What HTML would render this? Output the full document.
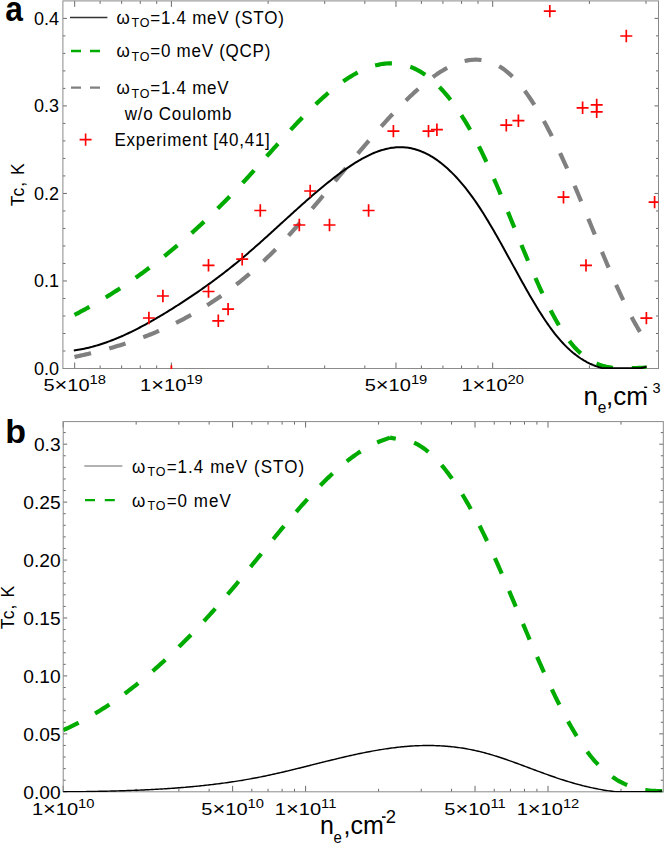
<!DOCTYPE html>
<html><head><meta charset="utf-8"><style>
html,body{margin:0;padding:0;background:#fff;width:664px;height:843px;overflow:hidden}
svg{display:block;font-family:"Liberation Sans", sans-serif}
</style></head><body>
<svg width="664" height="843" viewBox="0 0 664 843" font-family='"Liberation Sans", sans-serif'><line x1="74.68" y1="368.50" x2="74.68" y2="362.50" stroke="#6a6a6a" stroke-width="1"/>
<line x1="74.68" y1="0.90" x2="74.68" y2="6.90" stroke="#6a6a6a" stroke-width="1"/>
<line x1="171.40" y1="368.50" x2="171.40" y2="362.50" stroke="#6a6a6a" stroke-width="1"/>
<line x1="171.40" y1="0.90" x2="171.40" y2="6.90" stroke="#6a6a6a" stroke-width="1"/>
<line x1="395.98" y1="368.50" x2="395.98" y2="362.50" stroke="#6a6a6a" stroke-width="1"/>
<line x1="395.98" y1="0.90" x2="395.98" y2="6.90" stroke="#6a6a6a" stroke-width="1"/>
<line x1="492.70" y1="368.50" x2="492.70" y2="362.50" stroke="#6a6a6a" stroke-width="1"/>
<line x1="492.70" y1="0.90" x2="492.70" y2="6.90" stroke="#6a6a6a" stroke-width="1"/>
<line x1="100.12" y1="368.50" x2="100.12" y2="365.50" stroke="#6a6a6a" stroke-width="1"/>
<line x1="100.12" y1="0.90" x2="100.12" y2="3.90" stroke="#6a6a6a" stroke-width="1"/>
<line x1="121.63" y1="368.50" x2="121.63" y2="365.50" stroke="#6a6a6a" stroke-width="1"/>
<line x1="121.63" y1="0.90" x2="121.63" y2="3.90" stroke="#6a6a6a" stroke-width="1"/>
<line x1="140.26" y1="368.50" x2="140.26" y2="365.50" stroke="#6a6a6a" stroke-width="1"/>
<line x1="140.26" y1="0.90" x2="140.26" y2="3.90" stroke="#6a6a6a" stroke-width="1"/>
<line x1="156.70" y1="368.50" x2="156.70" y2="365.50" stroke="#6a6a6a" stroke-width="1"/>
<line x1="156.70" y1="0.90" x2="156.70" y2="3.90" stroke="#6a6a6a" stroke-width="1"/>
<line x1="268.12" y1="368.50" x2="268.12" y2="365.50" stroke="#6a6a6a" stroke-width="1"/>
<line x1="268.12" y1="0.90" x2="268.12" y2="3.90" stroke="#6a6a6a" stroke-width="1"/>
<line x1="324.70" y1="368.50" x2="324.70" y2="365.50" stroke="#6a6a6a" stroke-width="1"/>
<line x1="324.70" y1="0.90" x2="324.70" y2="3.90" stroke="#6a6a6a" stroke-width="1"/>
<line x1="364.84" y1="368.50" x2="364.84" y2="365.50" stroke="#6a6a6a" stroke-width="1"/>
<line x1="364.84" y1="0.90" x2="364.84" y2="3.90" stroke="#6a6a6a" stroke-width="1"/>
<line x1="421.42" y1="368.50" x2="421.42" y2="365.50" stroke="#6a6a6a" stroke-width="1"/>
<line x1="421.42" y1="0.90" x2="421.42" y2="3.90" stroke="#6a6a6a" stroke-width="1"/>
<line x1="442.93" y1="368.50" x2="442.93" y2="365.50" stroke="#6a6a6a" stroke-width="1"/>
<line x1="442.93" y1="0.90" x2="442.93" y2="3.90" stroke="#6a6a6a" stroke-width="1"/>
<line x1="461.56" y1="368.50" x2="461.56" y2="365.50" stroke="#6a6a6a" stroke-width="1"/>
<line x1="461.56" y1="0.90" x2="461.56" y2="3.90" stroke="#6a6a6a" stroke-width="1"/>
<line x1="478.00" y1="368.50" x2="478.00" y2="365.50" stroke="#6a6a6a" stroke-width="1"/>
<line x1="478.00" y1="0.90" x2="478.00" y2="3.90" stroke="#6a6a6a" stroke-width="1"/>
<line x1="589.42" y1="368.50" x2="589.42" y2="365.50" stroke="#6a6a6a" stroke-width="1"/>
<line x1="589.42" y1="0.90" x2="589.42" y2="3.90" stroke="#6a6a6a" stroke-width="1"/>
<line x1="646.00" y1="368.50" x2="646.00" y2="365.50" stroke="#6a6a6a" stroke-width="1"/>
<line x1="646.00" y1="0.90" x2="646.00" y2="3.90" stroke="#6a6a6a" stroke-width="1"/>
<line x1="62.90" y1="368.50" x2="66.90" y2="368.50" stroke="#6a6a6a" stroke-width="1"/>
<line x1="658.50" y1="368.50" x2="654.50" y2="368.50" stroke="#6a6a6a" stroke-width="1"/>
<line x1="62.90" y1="280.97" x2="66.90" y2="280.97" stroke="#6a6a6a" stroke-width="1"/>
<line x1="658.50" y1="280.97" x2="654.50" y2="280.97" stroke="#6a6a6a" stroke-width="1"/>
<line x1="62.90" y1="193.44" x2="66.90" y2="193.44" stroke="#6a6a6a" stroke-width="1"/>
<line x1="658.50" y1="193.44" x2="654.50" y2="193.44" stroke="#6a6a6a" stroke-width="1"/>
<line x1="62.90" y1="105.91" x2="66.90" y2="105.91" stroke="#6a6a6a" stroke-width="1"/>
<line x1="658.50" y1="105.91" x2="654.50" y2="105.91" stroke="#6a6a6a" stroke-width="1"/>
<line x1="62.90" y1="18.38" x2="66.90" y2="18.38" stroke="#6a6a6a" stroke-width="1"/>
<line x1="658.50" y1="18.38" x2="654.50" y2="18.38" stroke="#6a6a6a" stroke-width="1"/>
<line x1="62.90" y1="350.99" x2="65.40" y2="350.99" stroke="#6a6a6a" stroke-width="1"/>
<line x1="658.50" y1="350.99" x2="656.00" y2="350.99" stroke="#6a6a6a" stroke-width="1"/>
<line x1="62.90" y1="333.49" x2="65.40" y2="333.49" stroke="#6a6a6a" stroke-width="1"/>
<line x1="658.50" y1="333.49" x2="656.00" y2="333.49" stroke="#6a6a6a" stroke-width="1"/>
<line x1="62.90" y1="315.98" x2="65.40" y2="315.98" stroke="#6a6a6a" stroke-width="1"/>
<line x1="658.50" y1="315.98" x2="656.00" y2="315.98" stroke="#6a6a6a" stroke-width="1"/>
<line x1="62.90" y1="298.48" x2="65.40" y2="298.48" stroke="#6a6a6a" stroke-width="1"/>
<line x1="658.50" y1="298.48" x2="656.00" y2="298.48" stroke="#6a6a6a" stroke-width="1"/>
<line x1="62.90" y1="263.46" x2="65.40" y2="263.46" stroke="#6a6a6a" stroke-width="1"/>
<line x1="658.50" y1="263.46" x2="656.00" y2="263.46" stroke="#6a6a6a" stroke-width="1"/>
<line x1="62.90" y1="245.96" x2="65.40" y2="245.96" stroke="#6a6a6a" stroke-width="1"/>
<line x1="658.50" y1="245.96" x2="656.00" y2="245.96" stroke="#6a6a6a" stroke-width="1"/>
<line x1="62.90" y1="228.45" x2="65.40" y2="228.45" stroke="#6a6a6a" stroke-width="1"/>
<line x1="658.50" y1="228.45" x2="656.00" y2="228.45" stroke="#6a6a6a" stroke-width="1"/>
<line x1="62.90" y1="210.95" x2="65.40" y2="210.95" stroke="#6a6a6a" stroke-width="1"/>
<line x1="658.50" y1="210.95" x2="656.00" y2="210.95" stroke="#6a6a6a" stroke-width="1"/>
<line x1="62.90" y1="175.93" x2="65.40" y2="175.93" stroke="#6a6a6a" stroke-width="1"/>
<line x1="658.50" y1="175.93" x2="656.00" y2="175.93" stroke="#6a6a6a" stroke-width="1"/>
<line x1="62.90" y1="158.43" x2="65.40" y2="158.43" stroke="#6a6a6a" stroke-width="1"/>
<line x1="658.50" y1="158.43" x2="656.00" y2="158.43" stroke="#6a6a6a" stroke-width="1"/>
<line x1="62.90" y1="140.92" x2="65.40" y2="140.92" stroke="#6a6a6a" stroke-width="1"/>
<line x1="658.50" y1="140.92" x2="656.00" y2="140.92" stroke="#6a6a6a" stroke-width="1"/>
<line x1="62.90" y1="123.42" x2="65.40" y2="123.42" stroke="#6a6a6a" stroke-width="1"/>
<line x1="658.50" y1="123.42" x2="656.00" y2="123.42" stroke="#6a6a6a" stroke-width="1"/>
<line x1="62.90" y1="88.40" x2="65.40" y2="88.40" stroke="#6a6a6a" stroke-width="1"/>
<line x1="658.50" y1="88.40" x2="656.00" y2="88.40" stroke="#6a6a6a" stroke-width="1"/>
<line x1="62.90" y1="70.90" x2="65.40" y2="70.90" stroke="#6a6a6a" stroke-width="1"/>
<line x1="658.50" y1="70.90" x2="656.00" y2="70.90" stroke="#6a6a6a" stroke-width="1"/>
<line x1="62.90" y1="53.39" x2="65.40" y2="53.39" stroke="#6a6a6a" stroke-width="1"/>
<line x1="658.50" y1="53.39" x2="656.00" y2="53.39" stroke="#6a6a6a" stroke-width="1"/>
<line x1="62.90" y1="35.89" x2="65.40" y2="35.89" stroke="#6a6a6a" stroke-width="1"/>
<line x1="658.50" y1="35.89" x2="656.00" y2="35.89" stroke="#6a6a6a" stroke-width="1"/>
<rect x="62.90" y="0.90" width="595.60" height="367.60" fill="none" stroke="#8a8a8a" stroke-width="1"/>
<line x1="63.20" y1="791.80" x2="63.20" y2="785.80" stroke="#6a6a6a" stroke-width="1"/>
<line x1="63.20" y1="421.60" x2="63.20" y2="427.60" stroke="#6a6a6a" stroke-width="1"/>
<line x1="232.63" y1="791.80" x2="232.63" y2="785.80" stroke="#6a6a6a" stroke-width="1"/>
<line x1="232.63" y1="421.60" x2="232.63" y2="427.60" stroke="#6a6a6a" stroke-width="1"/>
<line x1="305.60" y1="791.80" x2="305.60" y2="785.80" stroke="#6a6a6a" stroke-width="1"/>
<line x1="305.60" y1="421.60" x2="305.60" y2="427.60" stroke="#6a6a6a" stroke-width="1"/>
<line x1="475.03" y1="791.80" x2="475.03" y2="785.80" stroke="#6a6a6a" stroke-width="1"/>
<line x1="475.03" y1="421.60" x2="475.03" y2="427.60" stroke="#6a6a6a" stroke-width="1"/>
<line x1="548.00" y1="791.80" x2="548.00" y2="785.80" stroke="#6a6a6a" stroke-width="1"/>
<line x1="548.00" y1="421.60" x2="548.00" y2="427.60" stroke="#6a6a6a" stroke-width="1"/>
<line x1="136.17" y1="791.80" x2="136.17" y2="788.80" stroke="#6a6a6a" stroke-width="1"/>
<line x1="136.17" y1="421.60" x2="136.17" y2="424.60" stroke="#6a6a6a" stroke-width="1"/>
<line x1="178.85" y1="791.80" x2="178.85" y2="788.80" stroke="#6a6a6a" stroke-width="1"/>
<line x1="178.85" y1="421.60" x2="178.85" y2="424.60" stroke="#6a6a6a" stroke-width="1"/>
<line x1="209.14" y1="791.80" x2="209.14" y2="788.80" stroke="#6a6a6a" stroke-width="1"/>
<line x1="209.14" y1="421.60" x2="209.14" y2="424.60" stroke="#6a6a6a" stroke-width="1"/>
<line x1="251.82" y1="791.80" x2="251.82" y2="788.80" stroke="#6a6a6a" stroke-width="1"/>
<line x1="251.82" y1="421.60" x2="251.82" y2="424.60" stroke="#6a6a6a" stroke-width="1"/>
<line x1="268.05" y1="791.80" x2="268.05" y2="788.80" stroke="#6a6a6a" stroke-width="1"/>
<line x1="268.05" y1="421.60" x2="268.05" y2="424.60" stroke="#6a6a6a" stroke-width="1"/>
<line x1="282.11" y1="791.80" x2="282.11" y2="788.80" stroke="#6a6a6a" stroke-width="1"/>
<line x1="282.11" y1="421.60" x2="282.11" y2="424.60" stroke="#6a6a6a" stroke-width="1"/>
<line x1="294.51" y1="791.80" x2="294.51" y2="788.80" stroke="#6a6a6a" stroke-width="1"/>
<line x1="294.51" y1="421.60" x2="294.51" y2="424.60" stroke="#6a6a6a" stroke-width="1"/>
<line x1="378.57" y1="791.80" x2="378.57" y2="788.80" stroke="#6a6a6a" stroke-width="1"/>
<line x1="378.57" y1="421.60" x2="378.57" y2="424.60" stroke="#6a6a6a" stroke-width="1"/>
<line x1="421.25" y1="791.80" x2="421.25" y2="788.80" stroke="#6a6a6a" stroke-width="1"/>
<line x1="421.25" y1="421.60" x2="421.25" y2="424.60" stroke="#6a6a6a" stroke-width="1"/>
<line x1="451.54" y1="791.80" x2="451.54" y2="788.80" stroke="#6a6a6a" stroke-width="1"/>
<line x1="451.54" y1="421.60" x2="451.54" y2="424.60" stroke="#6a6a6a" stroke-width="1"/>
<line x1="494.22" y1="791.80" x2="494.22" y2="788.80" stroke="#6a6a6a" stroke-width="1"/>
<line x1="494.22" y1="421.60" x2="494.22" y2="424.60" stroke="#6a6a6a" stroke-width="1"/>
<line x1="510.45" y1="791.80" x2="510.45" y2="788.80" stroke="#6a6a6a" stroke-width="1"/>
<line x1="510.45" y1="421.60" x2="510.45" y2="424.60" stroke="#6a6a6a" stroke-width="1"/>
<line x1="524.51" y1="791.80" x2="524.51" y2="788.80" stroke="#6a6a6a" stroke-width="1"/>
<line x1="524.51" y1="421.60" x2="524.51" y2="424.60" stroke="#6a6a6a" stroke-width="1"/>
<line x1="536.91" y1="791.80" x2="536.91" y2="788.80" stroke="#6a6a6a" stroke-width="1"/>
<line x1="536.91" y1="421.60" x2="536.91" y2="424.60" stroke="#6a6a6a" stroke-width="1"/>
<line x1="620.97" y1="791.80" x2="620.97" y2="788.80" stroke="#6a6a6a" stroke-width="1"/>
<line x1="620.97" y1="421.60" x2="620.97" y2="424.60" stroke="#6a6a6a" stroke-width="1"/>
<line x1="63.20" y1="791.80" x2="67.20" y2="791.80" stroke="#6a6a6a" stroke-width="1"/>
<line x1="663.30" y1="791.80" x2="659.30" y2="791.80" stroke="#6a6a6a" stroke-width="1"/>
<line x1="63.20" y1="733.87" x2="67.20" y2="733.87" stroke="#6a6a6a" stroke-width="1"/>
<line x1="663.30" y1="733.87" x2="659.30" y2="733.87" stroke="#6a6a6a" stroke-width="1"/>
<line x1="63.20" y1="675.93" x2="67.20" y2="675.93" stroke="#6a6a6a" stroke-width="1"/>
<line x1="663.30" y1="675.93" x2="659.30" y2="675.93" stroke="#6a6a6a" stroke-width="1"/>
<line x1="63.20" y1="617.99" x2="67.20" y2="617.99" stroke="#6a6a6a" stroke-width="1"/>
<line x1="663.30" y1="617.99" x2="659.30" y2="617.99" stroke="#6a6a6a" stroke-width="1"/>
<line x1="63.20" y1="560.06" x2="67.20" y2="560.06" stroke="#6a6a6a" stroke-width="1"/>
<line x1="663.30" y1="560.06" x2="659.30" y2="560.06" stroke="#6a6a6a" stroke-width="1"/>
<line x1="63.20" y1="502.12" x2="67.20" y2="502.12" stroke="#6a6a6a" stroke-width="1"/>
<line x1="663.30" y1="502.12" x2="659.30" y2="502.12" stroke="#6a6a6a" stroke-width="1"/>
<line x1="63.20" y1="444.19" x2="67.20" y2="444.19" stroke="#6a6a6a" stroke-width="1"/>
<line x1="663.30" y1="444.19" x2="659.30" y2="444.19" stroke="#6a6a6a" stroke-width="1"/>
<line x1="63.20" y1="780.21" x2="65.70" y2="780.21" stroke="#6a6a6a" stroke-width="1"/>
<line x1="663.30" y1="780.21" x2="660.80" y2="780.21" stroke="#6a6a6a" stroke-width="1"/>
<line x1="63.20" y1="768.63" x2="65.70" y2="768.63" stroke="#6a6a6a" stroke-width="1"/>
<line x1="663.30" y1="768.63" x2="660.80" y2="768.63" stroke="#6a6a6a" stroke-width="1"/>
<line x1="63.20" y1="757.04" x2="65.70" y2="757.04" stroke="#6a6a6a" stroke-width="1"/>
<line x1="663.30" y1="757.04" x2="660.80" y2="757.04" stroke="#6a6a6a" stroke-width="1"/>
<line x1="63.20" y1="745.45" x2="65.70" y2="745.45" stroke="#6a6a6a" stroke-width="1"/>
<line x1="663.30" y1="745.45" x2="660.80" y2="745.45" stroke="#6a6a6a" stroke-width="1"/>
<line x1="63.20" y1="722.28" x2="65.70" y2="722.28" stroke="#6a6a6a" stroke-width="1"/>
<line x1="663.30" y1="722.28" x2="660.80" y2="722.28" stroke="#6a6a6a" stroke-width="1"/>
<line x1="63.20" y1="710.69" x2="65.70" y2="710.69" stroke="#6a6a6a" stroke-width="1"/>
<line x1="663.30" y1="710.69" x2="660.80" y2="710.69" stroke="#6a6a6a" stroke-width="1"/>
<line x1="63.20" y1="699.10" x2="65.70" y2="699.10" stroke="#6a6a6a" stroke-width="1"/>
<line x1="663.30" y1="699.10" x2="660.80" y2="699.10" stroke="#6a6a6a" stroke-width="1"/>
<line x1="63.20" y1="687.52" x2="65.70" y2="687.52" stroke="#6a6a6a" stroke-width="1"/>
<line x1="663.30" y1="687.52" x2="660.80" y2="687.52" stroke="#6a6a6a" stroke-width="1"/>
<line x1="63.20" y1="664.34" x2="65.70" y2="664.34" stroke="#6a6a6a" stroke-width="1"/>
<line x1="663.30" y1="664.34" x2="660.80" y2="664.34" stroke="#6a6a6a" stroke-width="1"/>
<line x1="63.20" y1="652.76" x2="65.70" y2="652.76" stroke="#6a6a6a" stroke-width="1"/>
<line x1="663.30" y1="652.76" x2="660.80" y2="652.76" stroke="#6a6a6a" stroke-width="1"/>
<line x1="63.20" y1="641.17" x2="65.70" y2="641.17" stroke="#6a6a6a" stroke-width="1"/>
<line x1="663.30" y1="641.17" x2="660.80" y2="641.17" stroke="#6a6a6a" stroke-width="1"/>
<line x1="63.20" y1="629.58" x2="65.70" y2="629.58" stroke="#6a6a6a" stroke-width="1"/>
<line x1="663.30" y1="629.58" x2="660.80" y2="629.58" stroke="#6a6a6a" stroke-width="1"/>
<line x1="63.20" y1="606.41" x2="65.70" y2="606.41" stroke="#6a6a6a" stroke-width="1"/>
<line x1="663.30" y1="606.41" x2="660.80" y2="606.41" stroke="#6a6a6a" stroke-width="1"/>
<line x1="63.20" y1="594.82" x2="65.70" y2="594.82" stroke="#6a6a6a" stroke-width="1"/>
<line x1="663.30" y1="594.82" x2="660.80" y2="594.82" stroke="#6a6a6a" stroke-width="1"/>
<line x1="63.20" y1="583.23" x2="65.70" y2="583.23" stroke="#6a6a6a" stroke-width="1"/>
<line x1="663.30" y1="583.23" x2="660.80" y2="583.23" stroke="#6a6a6a" stroke-width="1"/>
<line x1="63.20" y1="571.65" x2="65.70" y2="571.65" stroke="#6a6a6a" stroke-width="1"/>
<line x1="663.30" y1="571.65" x2="660.80" y2="571.65" stroke="#6a6a6a" stroke-width="1"/>
<line x1="63.20" y1="548.47" x2="65.70" y2="548.47" stroke="#6a6a6a" stroke-width="1"/>
<line x1="663.30" y1="548.47" x2="660.80" y2="548.47" stroke="#6a6a6a" stroke-width="1"/>
<line x1="63.20" y1="536.89" x2="65.70" y2="536.89" stroke="#6a6a6a" stroke-width="1"/>
<line x1="663.30" y1="536.89" x2="660.80" y2="536.89" stroke="#6a6a6a" stroke-width="1"/>
<line x1="63.20" y1="525.30" x2="65.70" y2="525.30" stroke="#6a6a6a" stroke-width="1"/>
<line x1="663.30" y1="525.30" x2="660.80" y2="525.30" stroke="#6a6a6a" stroke-width="1"/>
<line x1="63.20" y1="513.71" x2="65.70" y2="513.71" stroke="#6a6a6a" stroke-width="1"/>
<line x1="663.30" y1="513.71" x2="660.80" y2="513.71" stroke="#6a6a6a" stroke-width="1"/>
<line x1="63.20" y1="490.54" x2="65.70" y2="490.54" stroke="#6a6a6a" stroke-width="1"/>
<line x1="663.30" y1="490.54" x2="660.80" y2="490.54" stroke="#6a6a6a" stroke-width="1"/>
<line x1="63.20" y1="478.95" x2="65.70" y2="478.95" stroke="#6a6a6a" stroke-width="1"/>
<line x1="663.30" y1="478.95" x2="660.80" y2="478.95" stroke="#6a6a6a" stroke-width="1"/>
<line x1="63.20" y1="467.36" x2="65.70" y2="467.36" stroke="#6a6a6a" stroke-width="1"/>
<line x1="663.30" y1="467.36" x2="660.80" y2="467.36" stroke="#6a6a6a" stroke-width="1"/>
<line x1="63.20" y1="455.78" x2="65.70" y2="455.78" stroke="#6a6a6a" stroke-width="1"/>
<line x1="663.30" y1="455.78" x2="660.80" y2="455.78" stroke="#6a6a6a" stroke-width="1"/>
<line x1="63.20" y1="432.60" x2="65.70" y2="432.60" stroke="#6a6a6a" stroke-width="1"/>
<line x1="663.30" y1="432.60" x2="660.80" y2="432.60" stroke="#6a6a6a" stroke-width="1"/>
<rect x="63.20" y="421.60" width="600.10" height="370.20" fill="none" stroke="#8a8a8a" stroke-width="1"/>
<defs><clipPath id="ca"><rect x="62.90" y="0.90" width="595.60" height="368.10"/></clipPath>
<clipPath id="cb"><rect x="63.20" y="421.60" width="600.10" height="370.70"/></clipPath></defs>
<g clip-path="url(#ca)" fill="none">
<path d="M74.50,314.85 L76.00,314.08 L77.50,313.30 L79.00,312.52 L80.50,311.72 L82.00,310.93 L83.50,310.12 L85.00,309.31 L86.50,308.49 L88.00,307.66 L89.50,306.83 L91.00,305.99 L92.50,305.14 L94.00,304.29 L95.50,303.43 L97.00,302.56 L98.50,301.69 L100.00,300.80 L101.50,299.92 L103.00,299.02 L104.50,298.12 L106.00,297.21 L107.50,296.29 L109.00,295.36 L110.50,294.43 L112.00,293.49 L113.50,292.55 L115.00,291.59 L116.50,290.63 L118.00,289.67 L119.50,288.69 L121.00,287.71 L122.50,286.72 L124.00,285.72 L125.50,284.72 L127.00,283.71 L128.50,282.69 L130.00,281.66 L131.50,280.63 L133.00,279.59 L134.50,278.54 L136.00,277.49 L137.50,276.43 L139.00,275.36 L140.50,274.28 L142.00,273.20 L143.50,272.10 L145.00,271.00 L146.50,269.90 L148.00,268.78 L149.50,267.66 L151.00,266.53 L152.50,265.40 L154.00,264.25 L155.50,263.10 L157.00,261.94 L158.50,260.78 L160.00,259.60 L161.50,258.42 L163.00,257.23 L164.50,256.03 L166.00,254.83 L167.50,253.62 L169.00,252.40 L170.50,251.17 L172.00,249.94 L173.50,248.69 L175.00,247.44 L176.50,246.19 L178.00,244.92 L179.50,243.65 L181.00,242.37 L182.50,241.08 L184.00,239.78 L185.50,238.48 L187.00,237.17 L188.50,235.85 L190.00,234.52 L191.50,233.19 L193.00,231.84 L194.50,230.49 L196.00,229.13 L197.50,227.77 L199.00,226.39 L200.50,225.01 L202.00,223.62 L203.50,222.22 L205.00,220.82 L206.50,219.40 L208.00,217.98 L209.50,216.55 L211.00,215.12 L212.50,213.67 L214.00,212.22 L215.50,210.76 L217.00,209.29 L218.50,207.81 L220.00,206.32 L221.50,204.83 L223.00,203.33 L224.50,201.82 L226.00,200.30 L227.50,198.78 L229.00,197.24 L230.50,195.70 L232.00,194.15 L233.50,192.59 L235.00,191.03 L236.50,189.45 L238.00,187.87 L239.50,186.28 L241.00,184.68 L242.50,183.07 L244.00,181.46 L245.50,179.84 L247.00,178.21 L248.50,176.57 L250.00,174.93 L251.50,173.28 L253.00,171.62 L254.50,169.97 L256.00,168.30 L257.50,166.64 L259.00,164.97 L260.50,163.29 L262.00,161.62 L263.50,159.94 L265.00,158.27 L266.50,156.59 L268.00,154.91 L269.50,153.23 L271.00,151.55 L272.50,149.88 L274.00,148.20 L275.50,146.53 L277.00,144.86 L278.50,143.20 L280.00,141.53 L281.50,139.87 L283.00,138.22 L284.50,136.57 L286.00,134.93 L287.50,133.29 L289.00,131.66 L290.50,130.04 L292.00,128.42 L293.50,126.81 L295.00,125.22 L296.50,123.63 L298.00,122.05 L299.50,120.48 L301.00,118.92 L302.50,117.37 L304.00,115.83 L305.50,114.31 L307.00,112.79 L308.50,111.29 L310.00,109.81 L311.50,108.34 L313.00,106.88 L314.50,105.44 L316.00,104.01 L317.50,102.60 L319.00,101.20 L320.50,99.83 L322.00,98.47 L323.50,97.12 L325.00,95.80 L326.50,94.50 L328.00,93.21 L329.50,91.95 L331.00,90.70 L332.50,89.48 L334.00,88.28 L335.50,87.09 L337.00,85.94 L338.50,84.80 L340.00,83.69 L341.50,82.60 L343.00,81.54 L344.50,80.50 L346.00,79.49 L347.50,78.50 L349.00,77.54 L350.50,76.60 L352.00,75.69 L353.50,74.81 L355.00,73.96 L356.50,73.14 L358.00,72.35 L359.50,71.59 L361.00,70.85 L362.50,70.15 L364.00,69.48 L365.50,68.84 L367.00,68.23 L368.50,67.66 L370.00,67.12 L371.50,66.61 L373.00,66.14 L374.50,65.70 L376.00,65.30 L377.50,64.93 L379.00,64.60 L380.50,64.30 L382.00,64.04 L383.50,63.82 L385.00,63.64 L386.50,63.50 L388.00,63.40 L389.50,63.33 L391.00,63.31 L392.50,63.32 L394.00,63.38 L395.50,63.48 L397.00,63.62 L398.50,63.81 L400.00,64.03 L401.50,64.30 L403.00,64.62 L404.50,64.98 L406.00,65.38 L407.50,65.83 L409.00,66.33 L410.50,66.87 L412.00,67.46 L413.50,68.09 L415.00,68.78 L416.50,69.51 L418.00,70.29 L419.50,71.12 L421.00,72.01 L422.50,72.94 L424.00,73.92 L425.50,74.95 L427.00,76.03 L428.50,77.17 L430.00,78.35 L431.50,79.59 L433.00,80.88 L434.50,82.22 L436.00,83.61 L437.50,85.05 L439.00,86.55 L440.50,88.10 L442.00,89.70 L443.50,91.35 L445.00,93.06 L446.50,94.82 L448.00,96.63 L449.50,98.50 L451.00,100.42 L452.50,102.40 L454.00,104.43 L455.50,106.51 L457.00,108.65 L458.50,110.85 L460.00,113.10 L461.50,115.41 L463.00,117.77 L464.50,120.18 L466.00,122.66 L467.50,125.19 L469.00,127.77 L470.50,130.42 L472.00,133.11 L473.50,135.87 L475.00,138.69 L476.50,141.56 L478.00,144.49 L479.50,147.47 L481.00,150.52 L482.50,153.61 L484.00,156.76 L485.50,159.96 L487.00,163.21 L488.50,166.50 L490.00,169.83 L491.50,173.20 L493.00,176.61 L494.50,180.05 L496.00,183.52 L497.50,187.02 L499.00,190.55 L500.50,194.11 L502.00,197.69 L503.50,201.28 L505.00,204.90 L506.50,208.52 L508.00,212.17 L509.50,215.82 L511.00,219.47 L512.50,223.14 L514.00,226.80 L515.50,230.47 L517.00,234.13 L518.50,237.79 L520.00,241.44 L521.50,245.08 L523.00,248.71 L524.50,252.32 L526.00,255.92 L527.50,259.49 L529.00,263.05 L530.50,266.58 L532.00,270.08 L533.50,273.55 L535.00,276.99 L536.50,280.40 L538.00,283.77 L539.50,287.09 L541.00,290.37 L542.50,293.61 L544.00,296.80 L545.50,299.94 L547.00,303.02 L548.50,306.05 L550.00,309.01 L551.50,311.92 L553.00,314.76 L554.50,317.54 L556.00,320.25 L557.50,322.88 L559.00,325.44 L560.50,327.93 L562.00,330.34 L563.50,332.67 L565.00,334.92 L566.50,337.09 L568.00,339.16 L569.50,341.15 L571.00,343.05 L572.50,344.86 L574.00,346.59 L575.50,348.23 L577.00,349.79 L578.50,351.26 L580.00,352.66 L581.50,353.99 L583.00,355.23 L584.50,356.41 L586.00,357.52 L587.50,358.56 L589.00,359.53 L590.50,360.44 L592.00,361.29 L593.50,362.07 L595.00,362.80 L596.50,363.48 L598.00,364.10 L599.50,364.66 L601.00,365.18 L602.50,365.65 L604.00,366.08 L605.50,366.46 L607.00,366.80 L608.50,367.10 L610.00,367.36 L611.50,367.59 L613.00,367.78 L614.50,367.94 L616.00,368.00 L617.50,368.00 L619.00,368.00 L620.50,368.00 L622.00,368.00 L623.50,368.00 L625.00,368.00 L626.50,368.00 L628.00,368.00 L629.50,368.00 L631.00,368.00 L632.50,368.00 L634.00,368.00 L635.50,368.00 L637.00,367.98 L638.50,367.92 L640.00,367.86 L641.50,367.80 L643.00,367.75 L644.50,367.71 L646.00,367.69 L646.50,367.68" stroke="#00ab00" stroke-width="4.2" stroke-dasharray="17 18.8"/>
<path d="M74.50,356.96 L76.00,356.64 L77.50,356.32 L79.00,355.99 L80.50,355.66 L82.00,355.32 L83.50,354.98 L85.00,354.64 L86.50,354.29 L88.00,353.94 L89.50,353.58 L91.00,353.22 L92.50,352.85 L94.00,352.48 L95.50,352.11 L97.00,351.73 L98.50,351.34 L100.00,350.95 L101.50,350.56 L103.00,350.16 L104.50,349.75 L106.00,349.34 L107.50,348.93 L109.00,348.51 L110.50,348.08 L112.00,347.65 L113.50,347.21 L115.00,346.77 L116.50,346.32 L118.00,345.86 L119.50,345.40 L121.00,344.93 L122.50,344.46 L124.00,343.98 L125.50,343.49 L127.00,343.00 L128.50,342.50 L130.00,342.00 L131.50,341.49 L133.00,340.97 L134.50,340.44 L136.00,339.91 L137.50,339.37 L139.00,338.82 L140.50,338.27 L142.00,337.71 L143.50,337.14 L145.00,336.57 L146.50,335.98 L148.00,335.39 L149.50,334.80 L151.00,334.19 L152.50,333.58 L154.00,332.96 L155.50,332.33 L157.00,331.69 L158.50,331.05 L160.00,330.39 L161.50,329.73 L163.00,329.06 L164.50,328.39 L166.00,327.70 L167.50,327.00 L169.00,326.30 L170.50,325.59 L172.00,324.87 L173.50,324.14 L175.00,323.40 L176.50,322.65 L178.00,321.90 L179.50,321.13 L181.00,320.35 L182.50,319.57 L184.00,318.78 L185.50,317.97 L187.00,317.16 L188.50,316.34 L190.00,315.51 L191.50,314.66 L193.00,313.81 L194.50,312.95 L196.00,312.08 L197.50,311.20 L199.00,310.30 L200.50,309.40 L202.00,308.49 L203.50,307.57 L205.00,306.63 L206.50,305.69 L208.00,304.73 L209.50,303.77 L211.00,302.79 L212.50,301.80 L214.00,300.80 L215.50,299.79 L217.00,298.77 L218.50,297.74 L220.00,296.70 L221.50,295.64 L223.00,294.58 L224.50,293.50 L226.00,292.41 L227.50,291.31 L229.00,290.20 L230.50,289.07 L232.00,287.93 L233.50,286.78 L235.00,285.62 L236.50,284.45 L238.00,283.27 L239.50,282.07 L241.00,280.86 L242.50,279.64 L244.00,278.40 L245.50,277.15 L247.00,275.89 L248.50,274.62 L250.00,273.33 L251.50,272.03 L253.00,270.72 L254.50,269.39 L256.00,268.06 L257.50,266.70 L259.00,265.34 L260.50,263.96 L262.00,262.57 L263.50,261.16 L265.00,259.74 L266.50,258.31 L268.00,256.86 L269.50,255.40 L271.00,253.92 L272.50,252.43 L274.00,250.93 L275.50,249.41 L277.00,247.88 L278.50,246.33 L280.00,244.78 L281.50,243.20 L283.00,241.62 L284.50,240.02 L286.00,238.41 L287.50,236.78 L289.00,235.15 L290.50,233.50 L292.00,231.85 L293.50,230.18 L295.00,228.51 L296.50,226.82 L298.00,225.12 L299.50,223.42 L301.00,221.70 L302.50,219.98 L304.00,218.25 L305.50,216.51 L307.00,214.76 L308.50,213.01 L310.00,211.25 L311.50,209.49 L313.00,207.71 L314.50,205.94 L316.00,204.15 L317.50,202.36 L319.00,200.57 L320.50,198.78 L322.00,196.97 L323.50,195.17 L325.00,193.36 L326.50,191.55 L328.00,189.74 L329.50,187.92 L331.00,186.10 L332.50,184.28 L334.00,182.46 L335.50,180.64 L337.00,178.82 L338.50,177.00 L340.00,175.18 L341.50,173.36 L343.00,171.54 L344.50,169.72 L346.00,167.90 L347.50,166.08 L349.00,164.27 L350.50,162.46 L352.00,160.65 L353.50,158.85 L355.00,157.04 L356.50,155.25 L358.00,153.45 L359.50,151.67 L361.00,149.88 L362.50,148.10 L364.00,146.33 L365.50,144.57 L367.00,142.81 L368.50,141.05 L370.00,139.31 L371.50,137.57 L373.00,135.84 L374.50,134.11 L376.00,132.40 L377.50,130.70 L379.00,129.00 L380.50,127.31 L382.00,125.63 L383.50,123.97 L385.00,122.31 L386.50,120.67 L388.00,119.03 L389.50,117.41 L391.00,115.80 L392.50,114.20 L394.00,112.61 L395.50,111.04 L397.00,109.48 L398.50,107.93 L400.00,106.40 L401.50,104.88 L403.00,103.38 L404.50,101.89 L406.00,100.42 L407.50,98.96 L409.00,97.52 L410.50,96.09 L412.00,94.68 L413.50,93.29 L415.00,91.92 L416.50,90.56 L418.00,89.23 L419.50,87.91 L421.00,86.61 L422.50,85.33 L424.00,84.07 L425.50,82.83 L427.00,81.62 L428.50,80.43 L430.00,79.26 L431.50,78.12 L433.00,77.01 L434.50,75.92 L436.00,74.86 L437.50,73.83 L439.00,72.82 L440.50,71.85 L442.00,70.91 L443.50,70.00 L445.00,69.12 L446.50,68.28 L448.00,67.47 L449.50,66.70 L451.00,65.96 L452.50,65.26 L454.00,64.59 L455.50,63.97 L457.00,63.38 L458.50,62.83 L460.00,62.33 L461.50,61.86 L463.00,61.44 L464.50,61.06 L466.00,60.72 L467.50,60.43 L469.00,60.19 L470.50,59.99 L472.00,59.84 L473.50,59.74 L475.00,59.68 L476.50,59.68 L478.00,59.73 L479.50,59.82 L481.00,59.97 L482.50,60.18 L484.00,60.43 L485.50,60.75 L487.00,61.11 L488.50,61.54 L490.00,62.02 L491.50,62.56 L493.00,63.15 L494.50,63.81 L496.00,64.53 L497.50,65.31 L499.00,66.15 L500.50,67.05 L502.00,68.02 L503.50,69.05 L505.00,70.14 L506.50,71.31 L508.00,72.54 L509.50,73.83 L511.00,75.20 L512.50,76.64 L514.00,78.14 L515.50,79.71 L517.00,81.35 L518.50,83.06 L520.00,84.83 L521.50,86.67 L523.00,88.57 L524.50,90.53 L526.00,92.56 L527.50,94.64 L529.00,96.79 L530.50,98.99 L532.00,101.25 L533.50,103.57 L535.00,105.95 L536.50,108.38 L538.00,110.86 L539.50,113.40 L541.00,115.99 L542.50,118.63 L544.00,121.33 L545.50,124.07 L547.00,126.86 L548.50,129.70 L550.00,132.59 L551.50,135.52 L553.00,138.50 L554.50,141.52 L556.00,144.58 L557.50,147.69 L559.00,150.84 L560.50,154.02 L562.00,157.25 L563.50,160.52 L565.00,163.82 L566.50,167.16 L568.00,170.54 L569.50,173.95 L571.00,177.39 L572.50,180.87 L574.00,184.37 L575.50,187.89 L577.00,191.44 L578.50,195.01 L580.00,198.60 L581.50,202.20 L583.00,205.82 L584.50,209.45 L586.00,213.09 L587.50,216.74 L589.00,220.39 L590.50,224.04 L592.00,227.70 L593.50,231.36 L595.00,235.01 L596.50,238.65 L598.00,242.29 L599.50,245.92 L601.00,249.54 L602.50,253.14 L604.00,256.72 L605.50,260.28 L607.00,263.83 L608.50,267.35 L610.00,270.84 L611.50,274.31 L613.00,277.74 L614.50,281.15 L616.00,284.51 L617.50,287.85 L619.00,291.14 L620.50,294.39 L622.00,297.60 L623.50,300.76 L625.00,303.87 L626.50,306.94 L628.00,309.95 L629.50,312.91 L631.00,315.81 L632.50,318.65 L634.00,321.43 L635.50,324.14 L637.00,326.79 L638.50,329.37 L640.00,331.89 L641.50,334.33 L643.00,336.69 L644.50,338.98 L646.00,341.19 L646.50,341.91" stroke="#808080" stroke-width="4.2" stroke-dasharray="17 18.8"/>
<path d="M73.80,350.47 L75.30,350.26 L76.80,350.04 L78.30,349.80 L79.80,349.55 L81.30,349.27 L82.80,348.98 L84.30,348.68 L85.80,348.35 L87.30,348.01 L88.80,347.66 L90.30,347.29 L91.80,346.90 L93.30,346.50 L94.80,346.08 L96.30,345.65 L97.80,345.20 L99.30,344.74 L100.80,344.27 L102.30,343.78 L103.80,343.27 L105.30,342.76 L106.80,342.22 L108.30,341.68 L109.80,341.12 L111.30,340.55 L112.80,339.97 L114.30,339.37 L115.80,338.76 L117.30,338.14 L118.80,337.51 L120.30,336.86 L121.80,336.21 L123.30,335.54 L124.80,334.86 L126.30,334.17 L127.80,333.47 L129.30,332.75 L130.80,332.03 L132.30,331.30 L133.80,330.56 L135.30,329.80 L136.80,329.04 L138.30,328.27 L139.80,327.49 L141.30,326.70 L142.80,325.90 L144.30,325.09 L145.80,324.27 L147.30,323.45 L148.80,322.62 L150.30,321.78 L151.80,320.93 L153.30,320.07 L154.80,319.21 L156.30,318.34 L157.80,317.46 L159.30,316.58 L160.80,315.69 L162.30,314.79 L163.80,313.89 L165.30,312.98 L166.80,312.06 L168.30,311.14 L169.80,310.22 L171.30,309.29 L172.80,308.35 L174.30,307.41 L175.80,306.46 L177.30,305.51 L178.80,304.56 L180.30,303.59 L181.80,302.62 L183.30,301.65 L184.80,300.67 L186.30,299.69 L187.80,298.69 L189.30,297.70 L190.80,296.69 L192.30,295.68 L193.80,294.67 L195.30,293.65 L196.80,292.62 L198.30,291.58 L199.80,290.54 L201.30,289.49 L202.80,288.44 L204.30,287.38 L205.80,286.31 L207.30,285.24 L208.80,284.15 L210.30,283.07 L211.80,281.97 L213.30,280.87 L214.80,279.76 L216.30,278.64 L217.80,277.52 L219.30,276.38 L220.80,275.25 L222.30,274.10 L223.80,272.94 L225.30,271.78 L226.80,270.61 L228.30,269.44 L229.80,268.25 L231.30,267.06 L232.80,265.86 L234.30,264.65 L235.80,263.43 L237.30,262.20 L238.80,260.97 L240.30,259.72 L241.80,258.47 L243.30,257.21 L244.80,255.95 L246.30,254.67 L247.80,253.39 L249.30,252.09 L250.80,250.80 L252.30,249.49 L253.80,248.18 L255.30,246.86 L256.80,245.54 L258.30,244.21 L259.80,242.88 L261.30,241.54 L262.80,240.19 L264.30,238.85 L265.80,237.50 L267.30,236.14 L268.80,234.78 L270.30,233.42 L271.80,232.06 L273.30,230.70 L274.80,229.33 L276.30,227.96 L277.80,226.60 L279.30,225.23 L280.80,223.86 L282.30,222.49 L283.80,221.12 L285.30,219.75 L286.80,218.38 L288.30,217.02 L289.80,215.65 L291.30,214.29 L292.80,212.93 L294.30,211.57 L295.80,210.22 L297.30,208.87 L298.80,207.52 L300.30,206.17 L301.80,204.84 L303.30,203.50 L304.80,202.17 L306.30,200.85 L307.80,199.53 L309.30,198.22 L310.80,196.91 L312.30,195.61 L313.80,194.32 L315.30,193.03 L316.80,191.75 L318.30,190.49 L319.80,189.22 L321.30,187.97 L322.80,186.73 L324.30,185.49 L325.80,184.27 L327.30,183.06 L328.80,181.85 L330.30,180.66 L331.80,179.48 L333.30,178.31 L334.80,177.15 L336.30,176.00 L337.80,174.87 L339.30,173.75 L340.80,172.64 L342.30,171.54 L343.80,170.46 L345.30,169.40 L346.80,168.35 L348.30,167.32 L349.80,166.31 L351.30,165.31 L352.80,164.34 L354.30,163.38 L355.80,162.45 L357.30,161.53 L358.80,160.64 L360.30,159.77 L361.80,158.92 L363.30,158.09 L364.80,157.29 L366.30,156.52 L367.80,155.77 L369.30,155.05 L370.80,154.35 L372.30,153.68 L373.80,153.04 L375.30,152.43 L376.80,151.85 L378.30,151.30 L379.80,150.79 L381.30,150.30 L382.80,149.85 L384.30,149.42 L385.80,149.04 L387.30,148.69 L388.80,148.37 L390.30,148.09 L391.80,147.85 L393.30,147.64 L394.80,147.47 L396.30,147.34 L397.80,147.25 L399.30,147.20 L400.80,147.19 L402.30,147.23 L403.80,147.30 L405.30,147.42 L406.80,147.58 L408.30,147.78 L409.80,148.03 L411.30,148.32 L412.80,148.66 L414.30,149.04 L415.80,149.46 L417.30,149.92 L418.80,150.43 L420.30,150.99 L421.80,151.58 L423.30,152.22 L424.80,152.90 L426.30,153.63 L427.80,154.40 L429.30,155.21 L430.80,156.07 L432.30,156.97 L433.80,157.91 L435.30,158.90 L436.80,159.93 L438.30,161.00 L439.80,162.12 L441.30,163.28 L442.80,164.48 L444.30,165.73 L445.80,167.02 L447.30,168.35 L448.80,169.73 L450.30,171.15 L451.80,172.61 L453.30,174.12 L454.80,175.67 L456.30,177.26 L457.80,178.90 L459.30,180.58 L460.80,182.30 L462.30,184.07 L463.80,185.88 L465.30,187.73 L466.80,189.63 L468.30,191.57 L469.80,193.55 L471.30,195.58 L472.80,197.65 L474.30,199.76 L475.80,201.91 L477.30,204.11 L478.80,206.35 L480.30,208.64 L481.80,210.96 L483.30,213.33 L484.80,215.73 L486.30,218.17 L487.80,220.64 L489.30,223.15 L490.80,225.68 L492.30,228.24 L493.80,230.82 L495.30,233.43 L496.80,236.07 L498.30,238.72 L499.80,241.38 L501.30,244.07 L502.80,246.77 L504.30,249.47 L505.80,252.19 L507.30,254.92 L508.80,257.65 L510.30,260.39 L511.80,263.12 L513.30,265.86 L514.80,268.60 L516.30,271.33 L517.80,274.05 L519.30,276.77 L520.80,279.47 L522.30,282.17 L523.80,284.85 L525.30,287.51 L526.80,290.15 L528.30,292.78 L529.80,295.38 L531.30,297.96 L532.80,300.51 L534.30,303.03 L535.80,305.53 L537.30,307.99 L538.80,310.42 L540.30,312.81 L541.80,315.16 L543.30,317.48 L544.80,319.75 L546.30,321.97 L547.80,324.15 L549.30,326.29 L550.80,328.37 L552.30,330.40 L553.80,332.38 L555.30,334.30 L556.80,336.16 L558.30,337.97 L559.80,339.71 L561.30,341.40 L562.80,343.03 L564.30,344.61 L565.80,346.13 L567.30,347.60 L568.80,349.01 L570.30,350.37 L571.80,351.68 L573.30,352.94 L574.80,354.14 L576.30,355.30 L577.80,356.40 L579.30,357.46 L580.80,358.47 L582.30,359.43 L583.80,360.35 L585.30,361.22 L586.80,362.05 L588.30,362.83 L589.80,363.57 L591.30,364.26 L592.80,364.92 L594.30,365.53 L595.80,366.10 L597.30,366.63 L598.80,367.13 L600.30,367.58 L601.80,368.00 L603.30,368.30 L604.80,368.30 L606.30,368.30 L607.80,368.30 L609.30,368.30 L610.80,368.30 L612.30,368.30 L613.80,368.30 L615.30,368.30 L616.80,368.30 L618.30,368.30 L619.80,368.30 L621.30,368.30 L622.80,368.30 L624.30,368.30 L625.80,368.30 L627.30,368.30 L628.80,368.30 L630.30,368.30 L631.80,368.30 L633.30,368.30 L634.80,368.30 L636.30,368.30 L637.80,368.30 L639.30,368.30 L640.80,368.10 L642.30,367.78 L643.80,367.45 L645.30,367.10 L646.50,366.81" stroke="#000" stroke-width="2"/>
<path d="M142.90,318.00h12M148.90,311.80v12.4" stroke="#ff0000" stroke-width="1.7"/>
<path d="M156.90,296.00h12M162.90,289.80v12.4" stroke="#ff0000" stroke-width="1.7"/>
<path d="M202.50,265.30h12M208.50,259.10v12.4" stroke="#ff0000" stroke-width="1.7"/>
<path d="M202.50,291.50h12M208.50,285.30v12.4" stroke="#ff0000" stroke-width="1.7"/>
<path d="M212.30,320.80h12M218.30,314.60v12.4" stroke="#ff0000" stroke-width="1.7"/>
<path d="M222.10,309.10h12M228.10,302.90v12.4" stroke="#ff0000" stroke-width="1.7"/>
<path d="M236.20,259.20h12M242.20,253.00v12.4" stroke="#ff0000" stroke-width="1.7"/>
<path d="M254.30,210.50h12M260.30,204.30v12.4" stroke="#ff0000" stroke-width="1.7"/>
<path d="M293.30,225.00h12M299.30,218.80v12.4" stroke="#ff0000" stroke-width="1.7"/>
<path d="M304.20,191.00h12M310.20,184.80v12.4" stroke="#ff0000" stroke-width="1.7"/>
<path d="M323.50,225.00h12M329.50,218.80v12.4" stroke="#ff0000" stroke-width="1.7"/>
<path d="M362.60,210.50h12M368.60,204.30v12.4" stroke="#ff0000" stroke-width="1.7"/>
<path d="M387.40,131.10h12M393.40,124.90v12.4" stroke="#ff0000" stroke-width="1.7"/>
<path d="M422.50,131.10h12M428.50,124.90v12.4" stroke="#ff0000" stroke-width="1.7"/>
<path d="M430.90,129.70h12M436.90,123.50v12.4" stroke="#ff0000" stroke-width="1.7"/>
<path d="M500.30,125.20h12M506.30,119.00v12.4" stroke="#ff0000" stroke-width="1.7"/>
<path d="M512.40,120.70h12M518.40,114.50v12.4" stroke="#ff0000" stroke-width="1.7"/>
<path d="M543.80,11.10h12M549.80,4.90v12.4" stroke="#ff0000" stroke-width="1.7"/>
<path d="M557.50,197.20h12M563.50,191.00v12.4" stroke="#ff0000" stroke-width="1.7"/>
<path d="M576.60,107.80h12M582.60,101.60v12.4" stroke="#ff0000" stroke-width="1.7"/>
<path d="M580.00,265.40h12M586.00,259.20v12.4" stroke="#ff0000" stroke-width="1.7"/>
<path d="M590.70,104.90h12M596.70,98.70v12.4" stroke="#ff0000" stroke-width="1.7"/>
<path d="M590.70,111.90h12M596.70,105.70v12.4" stroke="#ff0000" stroke-width="1.7"/>
<path d="M620.30,36.00h12M626.30,29.80v12.4" stroke="#ff0000" stroke-width="1.7"/>
<path d="M640.40,318.10h12M646.40,311.90v12.4" stroke="#ff0000" stroke-width="1.7"/>
<path d="M648.60,202.10h12M654.60,195.90v12.4" stroke="#ff0000" stroke-width="1.7"/>
<path d="M165.40,371.50h12M171.40,365.30v12.4" stroke="#ff0000" stroke-width="1.7"/>
</g>
<g clip-path="url(#cb)" fill="none">
<path d="M63.30,730.08 L64.80,729.42 L66.30,728.74 L67.80,728.06 L69.30,727.36 L70.80,726.65 L72.30,725.92 L73.80,725.19 L75.30,724.44 L76.80,723.69 L78.30,722.92 L79.80,722.14 L81.30,721.35 L82.80,720.54 L84.30,719.73 L85.80,718.91 L87.30,718.07 L88.80,717.22 L90.30,716.36 L91.80,715.49 L93.30,714.61 L94.80,713.72 L96.30,712.81 L97.80,711.90 L99.30,710.97 L100.80,710.04 L102.30,709.09 L103.80,708.13 L105.30,707.16 L106.80,706.18 L108.30,705.19 L109.80,704.19 L111.30,703.17 L112.80,702.15 L114.30,701.11 L115.80,700.07 L117.30,699.01 L118.80,697.95 L120.30,696.87 L121.80,695.78 L123.30,694.69 L124.80,693.58 L126.30,692.46 L127.80,691.33 L129.30,690.19 L130.80,689.04 L132.30,687.88 L133.80,686.71 L135.30,685.53 L136.80,684.34 L138.30,683.14 L139.80,681.92 L141.30,680.70 L142.80,679.47 L144.30,678.23 L145.80,676.98 L147.30,675.72 L148.80,674.44 L150.30,673.16 L151.80,671.87 L153.30,670.57 L154.80,669.26 L156.30,667.94 L157.80,666.61 L159.30,665.27 L160.80,663.92 L162.30,662.56 L163.80,661.19 L165.30,659.81 L166.80,658.42 L168.30,657.02 L169.80,655.62 L171.30,654.20 L172.80,652.77 L174.30,651.34 L175.80,649.89 L177.30,648.44 L178.80,646.97 L180.30,645.50 L181.80,644.02 L183.30,642.53 L184.80,641.03 L186.30,639.52 L187.80,638.00 L189.30,636.47 L190.80,634.93 L192.30,633.39 L193.80,631.83 L195.30,630.27 L196.80,628.70 L198.30,627.12 L199.80,625.52 L201.30,623.93 L202.80,622.32 L204.30,620.70 L205.80,619.08 L207.30,617.44 L208.80,615.80 L210.30,614.15 L211.80,612.49 L213.30,610.82 L214.80,609.14 L216.30,607.46 L217.80,605.76 L219.30,604.06 L220.80,602.35 L222.30,600.63 L223.80,598.90 L225.30,597.17 L226.80,595.42 L228.30,593.67 L229.80,591.91 L231.30,590.14 L232.80,588.37 L234.30,586.58 L235.80,584.79 L237.30,583.00 L238.80,581.20 L240.30,579.39 L241.80,577.58 L243.30,575.76 L244.80,573.94 L246.30,572.12 L247.80,570.29 L249.30,568.46 L250.80,566.62 L252.30,564.79 L253.80,562.95 L255.30,561.11 L256.80,559.27 L258.30,557.42 L259.80,555.58 L261.30,553.74 L262.80,551.90 L264.30,550.06 L265.80,548.22 L267.30,546.38 L268.80,544.54 L270.30,542.71 L271.80,540.88 L273.30,539.05 L274.80,537.22 L276.30,535.40 L277.80,533.58 L279.30,531.77 L280.80,529.96 L282.30,528.16 L283.80,526.37 L285.30,524.58 L286.80,522.79 L288.30,521.02 L289.80,519.25 L291.30,517.49 L292.80,515.74 L294.30,513.99 L295.80,512.26 L297.30,510.53 L298.80,508.82 L300.30,507.11 L301.80,505.41 L303.30,503.73 L304.80,502.06 L306.30,500.39 L307.80,498.74 L309.30,497.11 L310.80,495.48 L312.30,493.87 L313.80,492.27 L315.30,490.69 L316.80,489.12 L318.30,487.57 L319.80,486.03 L321.30,484.50 L322.80,483.00 L324.30,481.51 L325.80,480.03 L327.30,478.57 L328.80,477.13 L330.30,475.71 L331.80,474.31 L333.30,472.92 L334.80,471.56 L336.30,470.21 L337.80,468.88 L339.30,467.58 L340.80,466.29 L342.30,465.03 L343.80,463.78 L345.30,462.56 L346.80,461.36 L348.30,460.19 L349.80,459.03 L351.30,457.90 L352.80,456.79 L354.30,455.71 L355.80,454.65 L357.30,453.62 L358.80,452.61 L360.30,451.63 L361.80,450.67 L363.30,449.74 L364.80,448.84 L366.30,447.97 L367.80,447.12 L369.30,446.30 L370.80,445.51 L372.30,444.74 L373.80,444.01 L375.30,443.30 L376.80,442.63 L378.30,441.99 L379.40,441.53 L390,437.6" stroke="#00ab00" stroke-width="4.2" stroke-dasharray="17 18.8"/>
<path d="M390,437.6 L412.00,441.91 L413.50,442.51 L415.00,443.18 L416.50,443.91 L418.00,444.70 L419.50,445.56 L421.00,446.48 L422.50,447.46 L424.00,448.50 L425.50,449.61 L427.00,450.77 L428.50,452.00 L430.00,453.28 L431.50,454.62 L433.00,456.03 L434.50,457.49 L436.00,459.00 L437.50,460.58 L439.00,462.21 L440.50,463.89 L442.00,465.63 L443.50,467.43 L445.00,469.28 L446.50,471.18 L448.00,473.14 L449.50,475.15 L451.00,477.21 L452.50,479.32 L454.00,481.49 L455.50,483.70 L457.00,485.96 L458.50,488.28 L460.00,490.64 L461.50,493.05 L463.00,495.51 L464.50,498.01 L466.00,500.57 L467.50,503.16 L469.00,505.81 L470.50,508.50 L472.00,511.23 L473.50,514.01 L475.00,516.83 L476.50,519.69 L478.00,522.60 L479.50,525.55 L481.00,528.54 L482.50,531.57 L484.00,534.64 L485.50,537.75 L487.00,540.90 L488.50,544.09 L490.00,547.31 L491.50,550.57 L493.00,553.87 L494.50,557.19 L496.00,560.55 L497.50,563.93 L499.00,567.34 L500.50,570.77 L502.00,574.23 L503.50,577.71 L505.00,581.20 L506.50,584.71 L508.00,588.24 L509.50,591.77 L511.00,595.32 L512.50,598.88 L514.00,602.44 L515.50,606.01 L517.00,609.59 L518.50,613.16 L520.00,616.74 L521.50,620.31 L523.00,623.88 L524.50,627.44 L526.00,630.99 L527.50,634.53 L529.00,638.07 L530.50,641.58 L532.00,645.09 L533.50,648.57 L535.00,652.04 L536.50,655.49 L538.00,658.91 L539.50,662.32 L541.00,665.70 L542.50,669.06 L544.00,672.39 L545.50,675.70 L547.00,678.98 L548.50,682.22 L550.00,685.44 L551.50,688.62 L553.00,691.77 L554.50,694.89 L556.00,697.97 L557.50,701.01 L559.00,704.02 L560.50,706.98 L562.00,709.90 L563.50,712.79 L565.00,715.62 L566.50,718.41 L568.00,721.16 L569.50,723.86 L571.00,726.51 L572.50,729.11 L574.00,731.66 L575.50,734.15 L577.00,736.60 L578.50,738.98 L580.00,741.31 L581.50,743.59 L583.00,745.80 L584.50,747.95 L586.00,750.04 L587.50,752.07 L589.00,754.04 L590.50,755.94 L592.00,757.78 L593.50,759.55 L595.00,761.26 L596.50,762.91 L598.00,764.51 L599.50,766.04 L601.00,767.51 L602.50,768.93 L604.00,770.30 L605.50,771.61 L607.00,772.86 L608.50,774.06 L610.00,775.22 L611.50,776.32 L613.00,777.37 L614.50,778.37 L616.00,779.33 L617.50,780.24 L619.00,781.10 L620.50,781.92 L622.00,782.70 L623.50,783.44 L625.00,784.13 L626.50,784.78 L628.00,785.40 L629.50,785.98 L631.00,786.52 L632.50,787.02 L634.00,787.49 L635.50,787.92 L637.00,788.32 L638.50,788.69 L640.00,789.03 L641.50,789.34 L643.00,789.62 L644.50,789.87 L646.00,790.10 L647.50,790.30 L649.00,790.47 L650.50,790.63 L652.00,790.75 L653.50,790.86 L655.00,790.95 L656.50,791.01 L658.00,791.06 L659.50,791.09 L661.00,791.11 L662.50,791.11 L664.00,791.09" stroke="#00ab00" stroke-width="4.2" stroke-dasharray="17 18.8" stroke-dashoffset="11.1"/>
<path d="M63.00,791.80 L64.50,791.80 L66.00,791.80 L67.50,791.80 L69.00,791.80 L70.50,791.80 L72.00,791.80 L73.50,791.80 L75.00,791.78 L76.50,791.76 L78.00,791.73 L79.50,791.71 L81.00,791.68 L82.50,791.66 L84.00,791.63 L85.50,791.60 L87.00,791.58 L88.50,791.55 L90.00,791.52 L91.50,791.49 L93.00,791.46 L94.50,791.43 L96.00,791.40 L97.50,791.37 L99.00,791.34 L100.50,791.31 L102.00,791.27 L103.50,791.24 L105.00,791.20 L106.50,791.17 L108.00,791.13 L109.50,791.10 L111.00,791.06 L112.50,791.02 L114.00,790.98 L115.50,790.94 L117.00,790.89 L118.50,790.85 L120.00,790.81 L121.50,790.76 L123.00,790.71 L124.50,790.66 L126.00,790.61 L127.50,790.56 L129.00,790.51 L130.50,790.46 L132.00,790.40 L133.50,790.35 L135.00,790.29 L136.50,790.23 L138.00,790.17 L139.50,790.11 L141.00,790.04 L142.50,789.98 L144.00,789.91 L145.50,789.84 L147.00,789.77 L148.50,789.70 L150.00,789.62 L151.50,789.55 L153.00,789.47 L154.50,789.39 L156.00,789.31 L157.50,789.22 L159.00,789.14 L160.50,789.05 L162.00,788.96 L163.50,788.87 L165.00,788.77 L166.50,788.68 L168.00,788.58 L169.50,788.48 L171.00,788.38 L172.50,788.27 L174.00,788.16 L175.50,788.05 L177.00,787.94 L178.50,787.83 L180.00,787.71 L181.50,787.59 L183.00,787.47 L184.50,787.35 L186.00,787.22 L187.50,787.09 L189.00,786.96 L190.50,786.82 L192.00,786.68 L193.50,786.54 L195.00,786.40 L196.50,786.25 L198.00,786.11 L199.50,785.95 L201.00,785.80 L202.50,785.64 L204.00,785.48 L205.50,785.32 L207.00,785.15 L208.50,784.98 L210.00,784.81 L211.50,784.63 L213.00,784.45 L214.50,784.27 L216.00,784.09 L217.50,783.90 L219.00,783.70 L220.50,783.51 L222.00,783.31 L223.50,783.11 L225.00,782.90 L226.50,782.69 L228.00,782.48 L229.50,782.27 L231.00,782.05 L232.50,781.82 L234.00,781.60 L235.50,781.37 L237.00,781.13 L238.50,780.89 L240.00,780.65 L241.50,780.41 L243.00,780.16 L244.50,779.90 L246.00,779.65 L247.50,779.39 L249.00,779.12 L250.50,778.85 L252.00,778.58 L253.50,778.30 L255.00,778.02 L256.50,777.74 L258.00,777.45 L259.50,777.15 L261.00,776.86 L262.50,776.55 L264.00,776.25 L265.50,775.94 L267.00,775.62 L268.50,775.30 L270.00,774.98 L271.50,774.66 L273.00,774.33 L274.50,773.99 L276.00,773.66 L277.50,773.32 L279.00,772.97 L280.50,772.63 L282.00,772.28 L283.50,771.93 L285.00,771.58 L286.50,771.22 L288.00,770.86 L289.50,770.50 L291.00,770.14 L292.50,769.77 L294.00,769.41 L295.50,769.04 L297.00,768.67 L298.50,768.30 L300.00,767.93 L301.50,767.55 L303.00,767.18 L304.50,766.81 L306.00,766.43 L307.50,766.05 L309.00,765.68 L310.50,765.30 L312.00,764.92 L313.50,764.55 L315.00,764.17 L316.50,763.79 L318.00,763.41 L319.50,763.04 L321.00,762.66 L322.50,762.29 L324.00,761.91 L325.50,761.54 L327.00,761.17 L328.50,760.80 L330.00,760.43 L331.50,760.06 L333.00,759.69 L334.50,759.33 L336.00,758.96 L337.50,758.60 L339.00,758.24 L340.50,757.89 L342.00,757.53 L343.50,757.18 L345.00,756.83 L346.50,756.49 L348.00,756.14 L349.50,755.80 L351.00,755.47 L352.50,755.13 L354.00,754.80 L355.50,754.48 L357.00,754.15 L358.50,753.83 L360.00,753.52 L361.50,753.21 L363.00,752.90 L364.50,752.60 L366.00,752.30 L367.50,752.01 L369.00,751.72 L370.50,751.44 L372.00,751.16 L373.50,750.88 L375.00,750.61 L376.50,750.35 L378.00,750.09 L379.50,749.84 L381.00,749.60 L382.50,749.36 L384.00,749.12 L385.50,748.89 L387.00,748.67 L388.50,748.46 L390.00,748.25 L391.50,748.04 L393.00,747.85 L394.50,747.66 L396.00,747.48 L397.50,747.31 L399.00,747.14 L400.50,746.98 L402.00,746.83 L403.50,746.68 L405.00,746.55 L406.50,746.42 L408.00,746.30 L409.50,746.19 L411.00,746.09 L412.50,745.99 L414.00,745.90 L415.50,745.83 L417.00,745.76 L418.50,745.70 L420.00,745.65 L421.50,745.60 L423.00,745.57 L424.50,745.55 L426.00,745.53 L427.50,745.52 L429.00,745.53 L430.50,745.54 L432.00,745.56 L433.50,745.59 L435.00,745.63 L436.50,745.68 L438.00,745.74 L439.50,745.81 L441.00,745.89 L442.50,745.98 L444.00,746.08 L445.50,746.19 L447.00,746.31 L448.50,746.44 L450.00,746.58 L451.50,746.73 L453.00,746.89 L454.50,747.06 L456.00,747.24 L457.50,747.44 L459.00,747.64 L460.50,747.85 L462.00,748.08 L463.50,748.31 L465.00,748.56 L466.50,748.82 L468.00,749.09 L469.50,749.37 L471.00,749.66 L472.50,749.96 L474.00,750.27 L475.50,750.60 L477.00,750.94 L478.50,751.28 L480.00,751.64 L481.50,752.02 L483.00,752.40 L484.50,752.79 L486.00,753.20 L487.50,753.61 L489.00,754.04 L490.50,754.47 L492.00,754.92 L493.50,755.37 L495.00,755.83 L496.50,756.30 L498.00,756.78 L499.50,757.26 L501.00,757.76 L502.50,758.26 L504.00,758.76 L505.50,759.27 L507.00,759.79 L508.50,760.32 L510.00,760.84 L511.50,761.38 L513.00,761.91 L514.50,762.46 L516.00,763.00 L517.50,763.55 L519.00,764.10 L520.50,764.65 L522.00,765.21 L523.50,765.77 L525.00,766.33 L526.50,766.89 L528.00,767.45 L529.50,768.01 L531.00,768.58 L532.50,769.14 L534.00,769.70 L535.50,770.26 L537.00,770.82 L538.50,771.38 L540.00,771.94 L541.50,772.49 L543.00,773.04 L544.50,773.59 L546.00,774.13 L547.50,774.67 L549.00,775.21 L550.50,775.74 L552.00,776.27 L553.50,776.80 L555.00,777.31 L556.50,777.83 L558.00,778.33 L559.50,778.83 L561.00,779.32 L562.50,779.81 L564.00,780.29 L565.50,780.76 L567.00,781.22 L568.50,781.68 L570.00,782.13 L571.50,782.57 L573.00,783.01 L574.50,783.43 L576.00,783.85 L577.50,784.26 L579.00,784.67 L580.50,785.06 L582.00,785.45 L583.50,785.83 L585.00,786.20 L586.50,786.56 L588.00,786.91 L589.50,787.25 L591.00,787.59 L592.50,787.91 L594.00,788.23 L595.50,788.53 L597.00,788.83 L598.50,789.12 L600.00,789.40 L601.50,789.66 L603.00,789.92 L604.50,790.17 L606.00,790.41 L607.50,790.64 L609.00,790.85 L610.50,791.06 L612.00,791.26 L613.50,791.44 L615.00,791.62 L616.50,791.78 L618.00,791.80 L619.50,791.80 L621.00,791.80 L622.50,791.80 L624.00,791.80 L625.50,791.80 L627.00,791.80 L628.50,791.80 L630.00,791.80 L631.50,791.80 L633.00,791.80 L634.50,791.80 L636.00,791.80 L637.50,791.80 L639.00,791.80 L640.50,791.80 L642.00,791.80 L643.50,791.80 L645.00,791.80 L646.50,791.80 L648.00,791.80 L649.50,791.80 L651.00,791.80 L652.50,791.80 L654.00,791.80 L655.50,791.80 L657.00,791.67 L658.50,791.48 L660.00,791.28 L661.50,791.06 L662.00,790.99" stroke="#000" stroke-width="1.45"/>
</g>
<g transform="translate(5.2,20.6) scale(0.92,1)"><text x="0" y="0" font-size="34.5" font-weight="bold">a</text></g>
<text x="5.20" y="442.60" font-size="34" text-anchor="start" font-weight="bold">b</text>
<text x="59.00" y="375.00" font-size="18" text-anchor="end" >0.0</text>
<text x="59.00" y="287.47" font-size="18" text-anchor="end" >0.1</text>
<text x="59.00" y="199.94" font-size="18" text-anchor="end" >0.2</text>
<text x="59.00" y="112.41" font-size="18" text-anchor="end" >0.3</text>
<text x="59.00" y="24.88" font-size="18" text-anchor="end" >0.4</text>
<text x="60.60" y="798.70" font-size="19.2" text-anchor="end" >0.00</text>
<text x="60.60" y="740.76" font-size="19.2" text-anchor="end" >0.05</text>
<text x="60.60" y="682.83" font-size="19.2" text-anchor="end" >0.10</text>
<text x="60.60" y="624.89" font-size="19.2" text-anchor="end" >0.15</text>
<text x="60.60" y="566.96" font-size="19.2" text-anchor="end" >0.20</text>
<text x="60.60" y="509.02" font-size="19.2" text-anchor="end" >0.25</text>
<text x="60.60" y="451.09" font-size="19.2" text-anchor="end" >0.3</text>
<g transform="translate(74.68,391.00) scale(1.18,1)"><text x="0" y="0" font-size="17" text-anchor="middle">5<tspan font-size="18.5">×</tspan>10<tspan font-size="12.5" dy="-7.3">18</tspan></text></g>
<g transform="translate(171.40,391.00) scale(1.18,1)"><text x="0" y="0" font-size="17" text-anchor="middle">1<tspan font-size="18.5">×</tspan>10<tspan font-size="12.5" dy="-7.3">19</tspan></text></g>
<g transform="translate(395.98,391.00) scale(1.18,1)"><text x="0" y="0" font-size="17" text-anchor="middle">5<tspan font-size="18.5">×</tspan>10<tspan font-size="12.5" dy="-7.3">19</tspan></text></g>
<g transform="translate(492.70,391.00) scale(1.18,1)"><text x="0" y="0" font-size="17" text-anchor="middle">1<tspan font-size="18.5">×</tspan>10<tspan font-size="12.5" dy="-7.3">20</tspan></text></g>
<g transform="translate(63.20,815.00) scale(1.18,1)"><text x="0" y="0" font-size="17" text-anchor="middle">1<tspan font-size="18.5">×</tspan>10<tspan font-size="12.5" dy="-7.3">10</tspan></text></g>
<g transform="translate(232.63,815.00) scale(1.18,1)"><text x="0" y="0" font-size="17" text-anchor="middle">5<tspan font-size="18.5">×</tspan>10<tspan font-size="12.5" dy="-7.3">10</tspan></text></g>
<g transform="translate(305.60,815.00) scale(1.18,1)"><text x="0" y="0" font-size="17" text-anchor="middle">1<tspan font-size="18.5">×</tspan>10<tspan font-size="12.5" dy="-7.3">11</tspan></text></g>
<g transform="translate(475.03,815.00) scale(1.18,1)"><text x="0" y="0" font-size="17" text-anchor="middle">5<tspan font-size="18.5">×</tspan>10<tspan font-size="12.5" dy="-7.3">11</tspan></text></g>
<g transform="translate(548.00,815.00) scale(1.18,1)"><text x="0" y="0" font-size="17" text-anchor="middle">1<tspan font-size="18.5">×</tspan>10<tspan font-size="12.5" dy="-7.3">12</tspan></text></g>
<text x="583.5" y="405" font-size="26">n</text>
<g transform="translate(597.8,413.3) scale(1,1.12)"><text x="0" y="0" font-size="15.5">e</text></g>
<text x="606" y="405" font-size="26">,cm</text>
<rect x="644.2" y="386.6" width="3" height="1.4" fill="#000"/>
<text x="652.4" y="392.6" font-size="14.5">3</text>
<text x="320" y="834" font-size="25">n</text>
<g transform="translate(333.6,842.5) scale(1,1.15)"><text x="0" y="0" font-size="15">e</text></g>
<text x="343.5" y="834" font-size="25">,cm</text>
<rect x="382" y="816.3" width="3.6" height="1.6" fill="#000"/>
<text x="385.8" y="822.8" font-size="18.5">2</text>
<text transform="translate(24.2,206.2) rotate(-90)" font-size="17.6" letter-spacing="0.95">Tc, K</text>
<text transform="translate(13.6,629.2) rotate(-90)" font-size="17.6" letter-spacing="1.1">Tc, K</text>
<line x1="70" y1="17.5" x2="107.4" y2="17.5" stroke="#333" stroke-width="1.3"/>
<g transform="translate(116.60,23.80) scale(1,1.09)"><text x="0" y="0" font-size="17" letter-spacing="0.75">ω<tspan font-size="12.5" dx="1" dy="3.3">TO</tspan><tspan dy="-3.3">=1.4 meV (STO)</tspan></text></g>
<line x1="71" y1="51" x2="100.5" y2="51" stroke="#00ab00" stroke-width="2.3" stroke-dasharray="10 9"/>
<g transform="translate(116.60,57.40) scale(1,1.09)"><text x="0" y="0" font-size="17" letter-spacing="0.75">ω<tspan font-size="12.5" dx="1" dy="3.3">TO</tspan><tspan dy="-3.3">=0 meV (QCP)</tspan></text></g>
<line x1="71" y1="87.7" x2="100" y2="87.7" stroke="#808080" stroke-width="2.3" stroke-dasharray="10 9"/>
<g transform="translate(116.60,94.40) scale(1,1.09)"><text x="0" y="0" font-size="17" letter-spacing="0.75">ω<tspan font-size="12.5" dx="1" dy="3.3">TO</tspan><tspan dy="-3.3">=1.4 meV</tspan></text></g>
<g transform="translate(124.70,119.50) scale(1,1.09)"><text x="0" y="0" font-size="17" letter-spacing="0.75">w/o Coulomb</text></g>
<path d="M79.6,139.6h12M85.6,133.4v12.4" stroke="#ff0000" stroke-width="1.6"/>
<g transform="translate(114.50,145.70) scale(1,1.09)"><text x="0" y="0" font-size="17" letter-spacing="0.75">Experiment [40,41]</text></g>
<line x1="84.3" y1="466" x2="122.4" y2="466" stroke="#999" stroke-width="1.3"/>
<g transform="translate(132.10,472.60) scale(1,1.09)"><text x="0" y="0" font-size="17" letter-spacing="1.05">ω<tspan font-size="12.5" dx="1" dy="3.3">TO</tspan><tspan dy="-3.3">=1.4 meV (STO)</tspan></text></g>
<line x1="85" y1="500.1" x2="115.5" y2="500.1" stroke="#00ab00" stroke-width="2.3" stroke-dasharray="10 9.8"/>
<g transform="translate(132.10,506.50) scale(1,1.09)"><text x="0" y="0" font-size="17" letter-spacing="1.05">ω<tspan font-size="12.5" dx="1" dy="3.3">TO</tspan><tspan dy="-3.3">=0 meV</tspan></text></g></svg>
</body></html>
